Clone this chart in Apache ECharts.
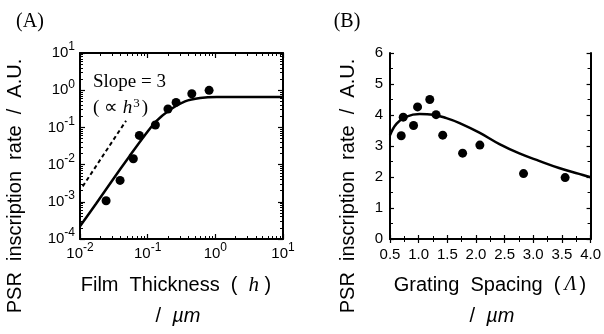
<!DOCTYPE html>
<html><head><meta charset="utf-8">
<script src="https://cdn.jsdelivr.net/npm/echarts@6/dist/echarts.min.js"></script>
<style>html,body{margin:0;padding:0;background:#fff}#c{width:604px;height:334px}</style>
</head><body><div id="c"></div><script>
// ---- Panel A data (log-log) ----
const thicknessPts = [0.0243, 0.0391, 0.0614, 0.0753, 0.130, 0.1995, 0.263, 0.449, 0.809];
const ratePtsA     = [1.07e-3, 3.76e-3, 0.0144, 0.061, 0.116, 0.313, 0.47, 0.805, 0.99];
const thicknessFit = [0.01, 0.01726, 0.0305, 0.0536, 0.0847, 0.133, 0.214, 0.357, 0.595, 1.05, 10];
const rateFitA     = [2.21e-4, 8.9e-4, 3.93e-3, 0.0166, 0.0519, 0.145, 0.299, 0.50, 0.617, 0.656, 0.656];
const slopeX = [0.01096, 0.0479];
const slopeY = [2.6e-3, 0.151];
const xExpA = [-2, -1, 0, 1];
const yExpA = [-4, -3, -2, -1, 0, 1];
// ---- Panel B data ----
const spacingPts = [0.696, 0.731, 0.911, 0.981, 1.194, 1.304, 1.42, 1.767, 2.068, 2.83, 3.556];
const ratePtsB   = [3.33, 3.93, 3.66, 4.26, 4.50, 4.01, 3.35, 2.77, 3.03, 2.11, 1.98];
const spacingFit = [0.5, 0.616, 0.79, 1.02, 1.252, 1.484, 1.715, 2.06, 2.41, 2.757, 3.10, 3.45, 3.80, 4.0];
const rateFitB   = [3.35, 3.72, 3.95, 4.03, 4.01, 3.90, 3.74, 3.43, 3.06, 2.76, 2.52, 2.29, 2.10, 1.99];
const xTicksB = ['0.5','1.0','1.5','2.0','2.5','3.0','3.5','4.0'];
const yTicksB = ['0','1','2','3','4','5','6'];

const zip = (a, b) => a.map((v, i) => [v, b[i]]);
const SANS = 'Liberation Sans, Arial, sans-serif';
const SERIF = 'Liberation Serif, Times New Roman, serif';

const minorLog = (lo, hi) => { const out = []; for (let e = lo; e < hi; e++) for (let k = 2; k <= 9; k++) out.push(k * Math.pow(10, e)); return out; };
const logRich = {
  b: {fontSize: 15, fontFamily: SANS, color: '#000', lineHeight: 24, verticalAlign: 'middle'},
  s: {fontSize: 12, fontFamily: SANS, color: '#000', verticalAlign: 'top'}
};
const logFmt = v => '{b|10}{s|' + Math.round(Math.log10(v)) + '}';
const line2 = {show: true, lineStyle: {color: '#000', width: 2}};

function logAxis(gi, pos, min, max, exps, labels, minor) {
  return {
    type: 'log', logBase: 10, gridIndex: gi, position: pos, min, max,
    axisLine: minor ? {show: false} : line2,
    axisTick: minor ? {show: true, inside: true, length: 3, lineStyle: {color: '#000', width: 1}, customValues: minorLog(Math.log10(min), Math.log10(max))}
                    : {show: true, inside: true, length: 5, lineStyle: {color: '#000', width: 1.2}, customValues: exps.map(e => Math.pow(10, e))},
    axisLabel: labels ? {show: true, formatter: logFmt, rich: logRich, margin: (pos === 'bottom' ? 3 : 5), customValues: exps.map(e => Math.pow(10, e))} : {show: false},
    splitLine: {show: false}, minorSplitLine: {show: false}
  };
}
function valAxis(gi, pos, min, max, interval, ticks, labels, m) {
  return {
    type: 'value', gridIndex: gi, position: pos, min, max, interval,
    axisLine: line2,
    axisTick: {show: true, inside: true, length: 4, lineStyle: {color: '#000', width: 1.2}},
    minorTick: {show: true, splitNumber: 2, length: 3, lineStyle: {color: '#000', width: 1}},
    axisLabel: labels ? {show: true, fontSize: 15, fontFamily: SANS, color: '#000', margin: m,
      formatter: v => ticks[Math.round((v - min) / interval)]} : {show: false},
    splitLine: {show: false}
  };
}

const chart = echarts.init(document.getElementById('c'), null, {renderer: 'canvas'});
chart.setOption({
  animation: false,
  backgroundColor: '#fff',
  grid: [
    {left: 80, top: 53, width: 203, height: 186},
    {left: 390, top: 53, width: 202, height: 186}
  ],
  xAxis: [
    logAxis(0, 'bottom', 0.01, 10, xExpA, true, false),
    logAxis(0, 'top', 0.01, 10, xExpA, false, false),
    logAxis(0, 'bottom', 0.01, 10, xExpA, false, true),
    logAxis(0, 'top', 0.01, 10, xExpA, false, true),
    valAxis(1, 'bottom', 0.5, 4.0, 0.5, xTicksB, true, 8),
    valAxis(1, 'top', 0.5, 4.0, 0.5, xTicksB, false, 8)
  ],
  yAxis: [
    logAxis(0, 'left', 1e-4, 10, yExpA, true, false),
    logAxis(0, 'right', 1e-4, 10, yExpA, false, false),
    logAxis(0, 'left', 1e-4, 10, yExpA, false, true),
    logAxis(0, 'right', 1e-4, 10, yExpA, false, true),
    valAxis(1, 'left', 0, 6, 1, yTicksB, true, 7),
    valAxis(1, 'right', 0, 6, 1, yTicksB, false, 7)
  ],
  series: [
    {type: 'line', xAxisIndex: 0, yAxisIndex: 0, data: zip(slopeX, slopeY), symbol: 'none',
      lineStyle: {color: '#000', width: 2, type: [4, 3]}},
    {type: 'line', xAxisIndex: 0, yAxisIndex: 0, data: zip(thicknessFit, rateFitA), symbol: 'none', smooth: 0.3,
      lineStyle: {color: '#000', width: 2.5}},
    {type: 'scatter', xAxisIndex: 0, yAxisIndex: 0, data: zip(thicknessPts, ratePtsA), symbolSize: 9,
      itemStyle: {color: '#000', opacity: 1}},
    {type: 'line', xAxisIndex: 4, yAxisIndex: 4, data: zip(spacingFit, rateFitB), symbol: 'none', smooth: 0.4,
      lineStyle: {color: '#000', width: 2.5}},
    {type: 'scatter', xAxisIndex: 4, yAxisIndex: 4, data: zip(spacingPts, ratePtsB), symbolSize: 9,
      itemStyle: {color: '#000', opacity: 1}}
  ],
  graphic: [
    {type: 'text', x: 30, y: 22, style: {text: '(A)', font: '20px ' + SERIF, fill: '#000', textAlign: 'center', textVerticalAlign: 'middle'}},
    {type: 'text', x: 347, y: 22, style: {text: '(B)', font: '20px ' + SERIF, fill: '#000', textAlign: 'center', textVerticalAlign: 'middle'}},
    {type: 'text', x: 15, y: 186, rotation: Math.PI / 2, style: {text: 'PSR  inscription  rate  /  A.U.', font: '20px ' + SANS, fill: '#000', textAlign: 'center', textVerticalAlign: 'middle'}},
    {type: 'text', x: 348, y: 186, rotation: Math.PI / 2, style: {text: 'PSR  inscription  rate  /  A.U.', font: '20px ' + SANS, fill: '#000', textAlign: 'center', textVerticalAlign: 'middle'}},
    {type: 'text', x: 176, y: 285, style: {text: '{a|Film  Thickness  (  }{h|h}{a| )}', textAlign: 'center', textVerticalAlign: 'middle',
      rich: {a: {fontSize: 20, fontFamily: SANS, fill: '#000'}, h: {fontSize: 21, fontFamily: SERIF, fontStyle: 'italic', fill: '#000'}}}},
    {type: 'text', x: 178, y: 316, style: {text: '{a|/  }{m|\u00b5m}', textAlign: 'center', textVerticalAlign: 'middle',
      rich: {a: {fontSize: 20, fontFamily: SANS, fill: '#000'}, m: {fontSize: 20, fontFamily: SANS, fontStyle: 'italic', fill: '#000'}}}},
    {type: 'text', x: 490, y: 285, style: {text: '{a|Grating  Spacing  (}{h|\u039b}{a|)}', textAlign: 'center', textVerticalAlign: 'middle',
      rich: {a: {fontSize: 20, fontFamily: SANS, fill: '#000'}, h: {fontSize: 20, fontFamily: SERIF, fontStyle: 'italic', fill: '#000', padding: [0, 3, 0, 4]}}}},
    {type: 'text', x: 492, y: 316, style: {text: '{a|/  }{m|\u00b5m}', textAlign: 'center', textVerticalAlign: 'middle',
      rich: {a: {fontSize: 20, fontFamily: SANS, fill: '#000'}, m: {fontSize: 20, fontFamily: SANS, fontStyle: 'italic', fill: '#000'}}}},
    {type: 'text', x: 93, y: 82, style: {text: 'Slope = 3', font: '19px ' + SERIF, fill: '#000', textAlign: 'left', textVerticalAlign: 'middle'}},
    {type: 'text', x: 93, y: 108, style: {text: '{a|( \u221d }{h|h}{s|3}{a|)}', textAlign: 'left', textVerticalAlign: 'middle',
      rich: {a: {fontSize: 19, fontFamily: SERIF, fill: '#000', lineHeight: 22, verticalAlign: 'middle'},
             h: {fontSize: 19, fontFamily: SERIF, fontStyle: 'italic', fill: '#000', lineHeight: 22, verticalAlign: 'middle'},
             s: {fontSize: 13, fontFamily: SERIF, fill: '#000', verticalAlign: 'top', padding: [0, 2, 0, 1]}}}}
  ]
});
</script></body></html>
